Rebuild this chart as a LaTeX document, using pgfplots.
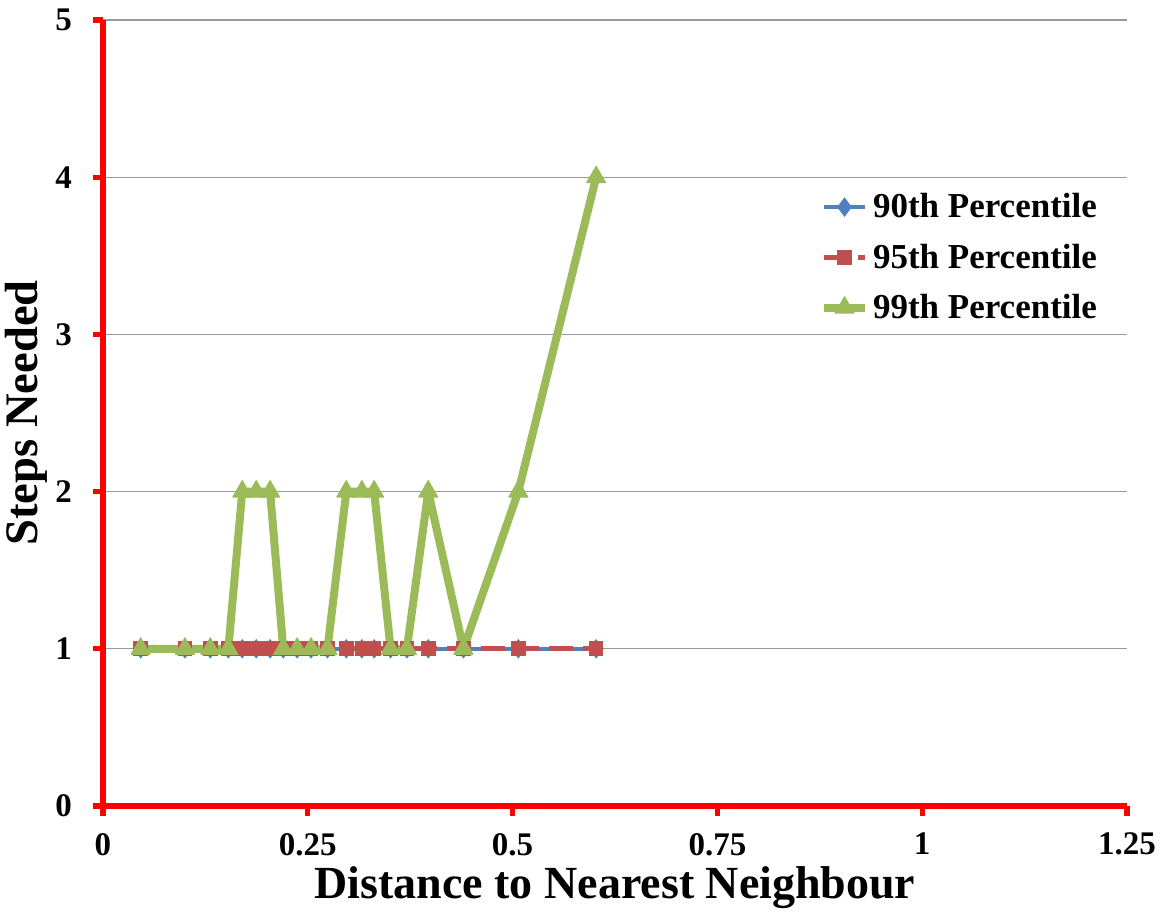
\documentclass[border=0pt]{standalone}
\usepackage{fontspec}
\setmainfont{Liberation Serif}
\usepackage{pgfplots}
\pgfplotsset{compat=1.18}
\definecolor{cblue}{HTML}{4F81BD}
\definecolor{cred}{HTML}{C0504D}
\definecolor{cgreen}{HTML}{9BBB59}
\begin{document}
\begin{tikzpicture}
\useasboundingbox (-51.5pt,-53.5pt) rectangle (534.5pt,403pt);
\begin{axis}[
  at={(0,0)}, anchor=south west,
  scale only axis,
  width=512pt, height=393pt,
  xmin=0, xmax=1.25, ymin=0, ymax=5,
  axis lines*=left,
  axis line style={red, line width=2.6pt},
  xtick={0,0.25,0.5,0.75,1,1.25},
  xticklabels={0,0.25,0.5,0.75,1,1.25},
  ytick={0,1,2,3,4,5},
  yticklabels={0,1,2,3,4,5},
  tick align=outside,
  major tick length=5pt,
  tick style={red, line width=2.6pt},
  ymajorgrids,
  grid style={gray!80, line width=0.6pt},
  ticklabel style={font=\bfseries\fontsize{16.5}{18}\selectfont},
  /pgf/number format/assume math mode=true,
  xticklabel style={yshift=-5pt},
  yticklabel style={xshift=-7pt},
  xlabel={\bfseries\fontsize{23}{26}\selectfont Distance to Nearest Neighbour},
  ylabel={\bfseries\fontsize{23.3}{26}\selectfont Steps Needed},
  xlabel style={yshift=1.5pt},
  ylabel style={yshift=-3pt},
  legend style={at={(0.694,0.79)}, anchor=north west, draw=none, fill=none,
    font=\bfseries\fontsize{17.5}{19}\selectfont, row sep=7.5pt,
    /tikz/every even column/.append style={column sep=0pt}},
  legend cell align=left,
  legend image code/.code={\draw[mark repeat=2,mark phase=2] plot coordinates {(0cm,0cm) (0.36cm,0cm) (0.72cm,0cm)};},
  clip=false,
]
\addplot[cblue, line width=2pt, mark=diamond*, mark size=4.5pt, mark options={solid, fill=cblue, draw=cblue, line width=0.5pt}] coordinates {
(0.046,1) (0.100,1) (0.131,1) (0.153,1) (0.170,1) (0.187,1) (0.204,1) (0.220,1) (0.237,1) (0.254,1) (0.274,1) (0.297,1) (0.316,1) (0.331,1) (0.351,1) (0.371,1) (0.397,1) (0.440,1) (0.507,1) (0.602,1)
};
\addlegendentry{90th Percentile}
\addplot[cred, line width=2.6pt, dash pattern=on 12pt off 5pt, mark=square*, mark size=3.4pt, mark options={solid, fill=cred, draw=cred, line width=0.5pt}] coordinates {
(0.046,1) (0.100,1) (0.131,1) (0.153,1) (0.170,1) (0.187,1) (0.204,1) (0.220,1) (0.237,1) (0.254,1) (0.274,1) (0.297,1) (0.316,1) (0.331,1) (0.351,1) (0.371,1) (0.397,1) (0.440,1) (0.507,1) (0.602,1)
};
\addlegendentry{95th Percentile}
\addplot[cgreen, line width=4pt, line join=round, mark=triangle*, mark size=5.5pt, mark options={solid, fill=cgreen, draw=cgreen, line width=0.5pt}] coordinates {
(0.046,1) (0.100,1) (0.131,1) (0.153,1) (0.170,2) (0.187,2) (0.204,2) (0.220,1) (0.237,1) (0.254,1) (0.274,1) (0.297,2) (0.316,2) (0.331,2) (0.351,1) (0.371,1) (0.397,2) (0.440,1) (0.507,2) (0.602,4)
};
\addlegendentry{99th Percentile}
\end{axis}
\end{tikzpicture}
\end{document}
